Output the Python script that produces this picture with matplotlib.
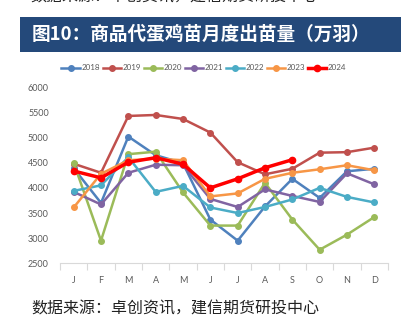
import matplotlib
matplotlib.use("Agg")
import matplotlib.pyplot as plt
from matplotlib.patches import Rectangle

# ── data ──────────────────────────────────────────────────────────────────────
months = ["J", "F", "M", "A", "M", "J", "J", "A", "S", "O", "N", "D"]
years = ["2018", "2019", "2020", "2021", "2022", "2023", "2024"]

y2018 = [4390, 3700, 5020, 4650, 4490, 3370, 2950, 3630, 4180, 3800, 4330, 4380]
y2019 = [4480, 4300, 5430, 5450, 5370, 5100, 4510, 4270, 4380, 4700, 4710, 4800]
y2020 = [4500, 2950, 4670, 4720, 3910, 3250, 3250, 4100, 3370, 2770, 3070, 3420]
y2021 = [3920, 3670, 4300, 4460, 4450, 3780, 3620, 3970, 3840, 3720, 4290, 4070]
y2022 = [3940, 4050, 4610, 3920, 4040, 3610, 3500, 3620, 3770, 4000, 3820, 3710]
y2023 = [3610, 4280, 4550, 4580, 4550, 3830, 3890, 4180, 4300, 4370, 4450, 4350]
y2024 = [4335, 4200, 4510, 4600, 4470, 4000, 4180, 4400, 4560]

series = [y2018, y2019, y2020, y2021, y2022, y2023, y2024]
colors = ["#4F81BD", "#C0504D", "#9BBB59", "#8064A2", "#4BACC6", "#F79646", "#FF0000"]

title = "图10：商品代蛋鸡苗月度出苗量（万羽）"
source = "数据来源：卓创资讯，建信期货研投中心"

plt.rcParams["font.family"] = ["Lato", "Noto Sans CJK SC", "DejaVu Sans"]
grey = "#595959"

fig = plt.figure(figsize=(4.01, 3.24), dpi=100)

# title banner
fig.patches.append(Rectangle((20 / 401, 1 - 52 / 324), 381 / 401, 35 / 324,
                             transform=fig.transFigure, facecolor="#24497A",
                             edgecolor="none", zorder=0))
fig.text(32 / 401, 1 - 34.5 / 324, title, color="white", fontsize=13.4,
         fontweight="bold", va="center", ha="left",
         family=["Noto Sans CJK SC", "DejaVu Sans"])

# caption of the previous chart, cut off at the very top as in the reference
fig.text(30 / 401, 1 + 3 / 324, source, color="#222222", fontsize=11.5,
         va="center", ha="left", family=["Noto Sans CJK SC"])

ax = fig.add_axes([60 / 401, 1 - 263.3 / 324, 328 / 401, 176 / 324])

x = list(range(len(months)))
for yr, vals, c in zip(years, series, colors):
    lw = 2.5 if yr == "2024" else 1.8
    ms = 4.5 if yr == "2024" else 4
    ax.plot(x[:len(vals)], vals, color=c, lw=lw, marker="o", ms=ms,
            label=yr, solid_joinstyle="round")

ax.set_xlim(-0.5, 11.5)
ax.set_ylim(2500, 6000)
ax.set_yticks(range(2500, 6001, 500))
ax.set_xticks(x)
ax.set_xticklabels(months)
ax.set_xticks([i - 0.5 for i in range(13)], minor=True)
ax.tick_params(axis="x", which="major", length=0, pad=9, labelsize=6.5,
               labelcolor=grey)
ax.tick_params(axis="x", which="minor", length=5, color="#D9D9D9", width=0.8)
ax.tick_params(axis="y", length=0, pad=8, labelsize=6.5, labelcolor=grey)

for side in ["top", "right", "left"]:
    ax.spines[side].set_visible(False)
ax.spines["bottom"].set_color("#D9D9D9")
ax.spines["bottom"].set_linewidth(0.8)

fig.legend(loc="center", bbox_to_anchor=(204 / 401, 1 - 68 / 324), ncol=7,
           frameon=False, fontsize=5.8, labelcolor=grey, handlelength=2.3,
           handletextpad=0.2, columnspacing=0.3, borderaxespad=0)

fig.text(31 / 401, 1 - 309 / 324, source, color="#222222", fontsize=11.5,
         va="center", ha="left", family=["Noto Sans CJK SC"])

fig.savefig("out.png", dpi=100)
